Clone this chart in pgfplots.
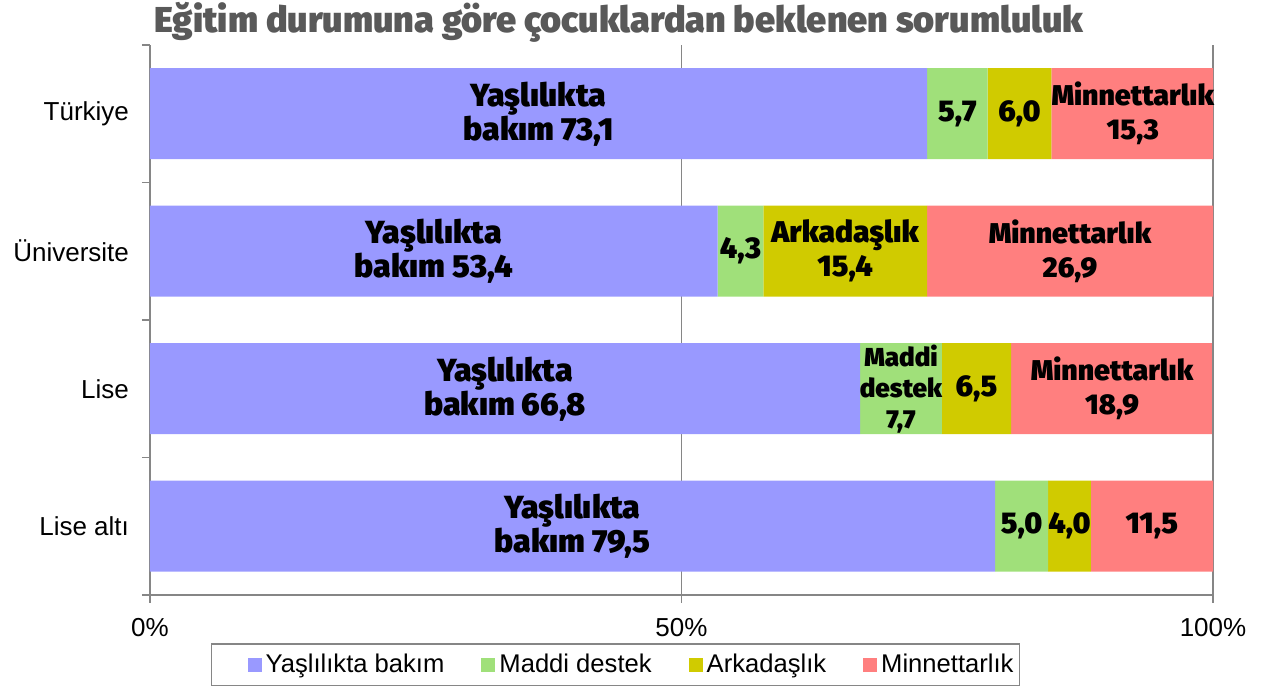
\documentclass[border=0pt]{standalone}
\usepackage{pgfplots}
\pgfplotsset{compat=1.18}
\usepackage{fontspec}
\setmainfont{Liberation Sans}
\newfontfamily\heavy{Fira Sans Black}
\definecolor{cb}{HTML}{9999FF}
\definecolor{cg}{HTML}{A0E07A}
\definecolor{co}{HTML}{D0CB00}
\definecolor{cr}{HTML}{FF7F7F}
\definecolor{axgray}{HTML}{868686}
\definecolor{ttl}{HTML}{595959}
\tikzset{lab/.style={font=\heavy\fontsize{15}{17}\selectfont, align=center, inner sep=0pt},
  labb/.style={font=\heavy\fontsize{16}{17}\selectfont, align=center, inner sep=0pt},
  labm/.style={font=\heavy\fontsize{14.3}{17}\selectfont, align=center, inner sep=0pt},
  labs/.style={font=\heavy\fontsize{13}{15.5}\selectfont, align=center, inner sep=0pt}}
\pgfplotsset{firstleg/.style={legend image code/.code={\path (-17pt,0pt); \fill[##1] (0pt,-3.4pt) rectangle (7pt,3.4pt);}}}
\begin{document}
\begin{tikzpicture}
\path[use as bounding box] (0,0) rectangle (632.5pt,345pt);
\node[font=\heavy\fontsize{18}{20}\selectfont, text=ttl] at (309.5pt,334pt) {Eğitim durumuna göre çocuklardan beklenen sorumluluk};
\begin{axis}[
  at={(75pt,47.5pt)}, anchor=south west,
  scale only axis, width=531.5pt, height=275pt,
  xbar stacked, bar width=45.5pt,
  xmin=0, xmax=100, ymin=-0.5, ymax=3.5,
  axis x line*=bottom, axis y line*=left,
  axis line style={draw=axgray, line width=0.8pt, -},
  xtick={0,50,100}, xticklabels={0\%,50\%,100\%},
  ytick={0,1,2,3}, yticklabels={Lise altı, Lise, Üniversite, Türkiye},
  minor ytick={-0.5,0.5,1.5,2.5,3.5},
  tick style={draw=axgray, line width=0.8pt},
  major y tick style={draw=none},
  tick align=outside, major tick length=4pt, minor tick length=4pt,
  xmajorgrids, grid style={draw=axgray, line width=0.8pt},
  ticklabel style={font=\fontsize{13}{15}\selectfont},
  xticklabel style={yshift=-4pt},
  yticklabel style={xshift=-3pt},
  legend style={at={(0.438,-0.127)}, anchor=center, legend columns=4,
    draw=axgray, line width=0.8pt, font=\fontsize{12.8}{14}\selectfont,
    inner xsep=1pt, inner ysep=3pt,
    /tikz/every even column/.append style={column sep=16.5pt}},
  legend image code/.code={\fill[#1] (0pt,-3.4pt) rectangle (7pt,3.4pt);},
]
\addplot[fill=cb, draw=none, firstleg] coordinates {(79.5,0) (66.8,1) (53.4,2) (73.1,3)};
\addplot[fill=cg, draw=none] coordinates {(5.0,0) (7.7,1) (4.3,2) (5.7,3)};
\addplot[fill=co, draw=none] coordinates {(4.0,0) (6.5,1) (15.4,2) (6.0,3)};
\addplot[fill=cr, draw=none] coordinates {(11.5,0) (18.9,1) (26.9,2) (15.3,3)};
\legend{Yaşlılıkta bakım, Maddi destek, Arkadaşlık, Minnettarlık}
\coordinate (t1) at (axis cs:36.55,3);
\coordinate (t2) at (axis cs:75.95,3);
\coordinate (t3) at (axis cs:81.8,3);
\coordinate (t4) at (axis cs:92.45,3);
\coordinate (u1) at (axis cs:26.7,2);
\coordinate (u2) at (axis cs:55.55,2);
\coordinate (u3) at (axis cs:65.4,2);
\coordinate (u4) at (axis cs:86.55,2);
\coordinate (l1) at (axis cs:33.4,1);
\coordinate (l2) at (axis cs:70.65,1);
\coordinate (l3) at (axis cs:77.75,1);
\coordinate (l4) at (axis cs:90.5,1);
\coordinate (a1) at (axis cs:39.75,0);
\coordinate (a2) at (axis cs:82.0,0);
\coordinate (a3) at (axis cs:86.5,0);
\coordinate (a4) at (axis cs:94.25,0);
\end{axis}
\node[labb] at (t1) {Yaşlılıkta\\bakım 73,1};
\node[lab] at (t2) {5,7};
\node[lab] at (t3) {6,0};
\node[labm] at (t4) {Minnettarlık\\15,3};
\node[labb] at (u1) {Yaşlılıkta\\bakım 53,4};
\node[lab] at (u2) {4,3};
\node[lab] at (u3) {Arkadaşlık\\15,4};
\node[labm] at (u4) {Minnettarlık\\26,9};
\node[labb] at (l1) {Yaşlılıkta\\bakım 66,8};
\node[labs] at (l2) {Maddi\\destek\\7,7};
\node[lab] at (l3) {6,5};
\node[labm] at (l4) {Minnettarlık\\18,9};
\node[labb] at (a1) {Yaşlılıkta\\bakım 79,5};
\node[lab] at (a2) {5,0};
\node[lab] at (a3) {4,0};
\node[lab] at (a4) {11,5};
\end{tikzpicture}
\end{document}
